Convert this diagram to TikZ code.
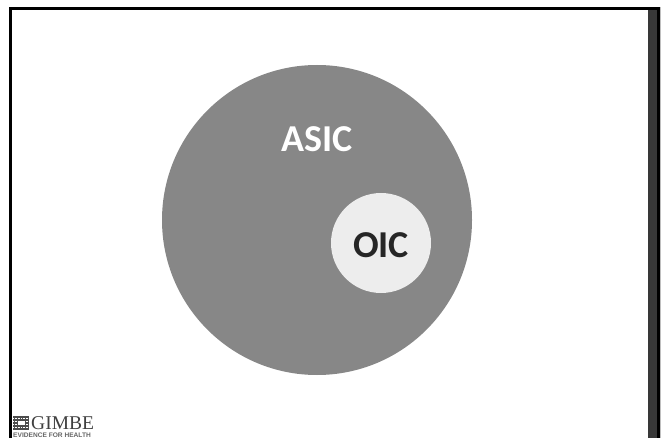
\documentclass[tikz,border=0pt]{standalone}
\usepackage{fontspec}
\setmainfont{Carlito}
\newfontfamily\logofont{Liberation Serif}
\newfontfamily\tagfont{Liberation Sans}
\begin{document}
\begin{tikzpicture}[x=1pt,y=-1pt,
  bigcircle/.style={circle,fill=black!47,minimum size=310pt,inner sep=0pt},
  smallcircle/.style={circle,fill=black!7,minimum size=100pt,inner sep=0pt},
  lbl/.style={font=\bfseries\fontsize{38}{42}\selectfont}]
\useasboundingbox (0,0) rectangle (666,438);
\fill[white] (0,0) rectangle (666,438);
% frame
\fill[black] (9,7) rectangle (660,10);
\fill[black] (9,7) rectangle (12,438);
\fill[black!78] (648,10) rectangle (657,438);
\fill[black] (657,7) rectangle (660,438);
\fill[black] (648,7) rectangle (660,10);
\fill[black!25] (660,7) rectangle (661,438);
% circles
\node[bigcircle] (asic) at (317,220) {};
\node[smallcircle] (oic) at (381,243) {};
\node[lbl,text=white,anchor=center] (asiclabel) at (317,139) {ASIC};
\node[lbl,text=black!85,anchor=center] (oiclabel) at (381,245) {OIC};
% logo
\fill[black!70] (13,416) rectangle (29,430);
\foreach \yy in {418,421,424,427} \draw[white,line width=0.6pt,densely dotted] (13,\yy) -- (29,\yy);
\fill[white] (18,421) rectangle (25,425);
\node[anchor=west,inner sep=0pt,text=black!75] (logo) at (31,423) {\logofont\fontsize{19.5}{21}\selectfont GIMBE};
\node[anchor=west,inner sep=0pt,text=black!60] (tag) at (13,435.5) {\tagfont\bfseries\fontsize{6.6}{7}\selectfont EVIDENCE FOR HEALTH};
\end{tikzpicture}
\end{document}
